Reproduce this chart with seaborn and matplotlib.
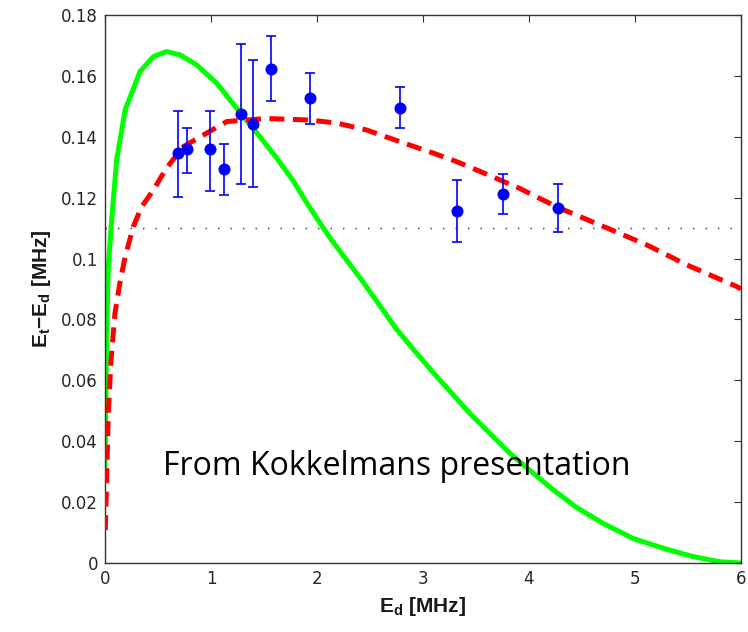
import matplotlib
matplotlib.use("Agg")
import matplotlib.pyplot as plt
import seaborn as sns
import numpy as np
import pandas as pd
from matplotlib.ticker import FuncFormatter

# ---- data ----
green_x = [0, 0.01, 0.016, 0.031, 0.063, 0.11, 0.19, 0.33, 0.456, 0.58, 0.71, 0.865,
           1.054, 1.274, 1.462, 1.62, 1.776, 1.90, 2.05, 2.154, 2.42, 2.594, 2.75, 2.94,
           3.13, 3.286, 3.44, 3.63, 3.82, 4.04, 4.23, 4.45, 4.70, 4.98, 5.27, 5.55, 5.80, 6.0]
green_y = [0.0316, 0.058, 0.0776, 0.097, 0.1127, 0.1324, 0.1488, 0.1614, 0.1663, 0.168, 0.1669, 0.1636,
           0.1576, 0.148, 0.140, 0.133, 0.1255, 0.1185, 0.1105, 0.1053, 0.093, 0.0845, 0.0768, 0.0689,
           0.0612, 0.0552, 0.0492, 0.0426, 0.036, 0.0295, 0.024, 0.0182, 0.013, 0.0081, 0.0048, 0.0021, 0.0004, 0.0]

red_x = [0.003, 0.016, 0.031, 0.057, 0.094, 0.14, 0.19, 0.267, 0.346, 0.456, 0.58, 0.74, 0.93,
         1.148, 1.525, 1.934, 2.186, 2.47, 2.78, 3.10, 3.32, 3.54, 3.915, 4.26, 4.67, 5.11, 5.49, 5.96, 6.0]
red_y = [0.0108, 0.0284, 0.049, 0.0667, 0.082, 0.0919, 0.1006, 0.1105, 0.117, 0.1225, 0.1297, 0.1368, 0.1406,
         0.145, 0.146, 0.1455, 0.1445, 0.1422, 0.1384, 0.1346, 0.1318, 0.1286, 0.123, 0.117, 0.111, 0.1045, 0.0979, 0.0908, 0.0900]

pts_x = [0.686, 0.77, 0.994, 1.12, 1.283, 1.40, 1.563, 1.937, 2.783, 3.324, 3.75, 4.27]
pts_y = [0.1346, 0.1359, 0.1359, 0.1293, 0.1474, 0.1442, 0.1623, 0.1527, 0.1495, 0.1157, 0.1212, 0.1167]
err_lo = [0.1201, 0.1280, 0.1223, 0.1210, 0.1245, 0.1236, 0.1517, 0.1442, 0.1429, 0.1056, 0.1145, 0.1086]
err_hi = [0.1486, 0.1428, 0.1486, 0.1376, 0.1705, 0.1652, 0.1731, 0.1609, 0.1564, 0.1258, 0.1279, 0.1244]

ref_level = 0.11
x_ticks = [0, 1, 2, 3, 4, 5, 6]
y_ticks = [0, 0.02, 0.04, 0.06, 0.08, 0.1, 0.12, 0.14, 0.16, 0.18]
note = "From Kokkelmans presentation"

# ---- style ----
sns.set_theme(style="white")
plt.rcParams["font.family"] = ["DejaVu Sans"]
plt.rcParams["mathtext.fontset"] = "custom"
plt.rcParams["mathtext.rm"] = "Liberation Sans:bold"
plt.rcParams["mathtext.bf"] = "Liberation Sans:bold"
plt.rcParams["mathtext.it"] = "Liberation Sans:bold"

fig = plt.figure(figsize=(7.48, 6.32), dpi=100)
ax = fig.add_axes([105/748, 69/632, 636/748, 548/632])

green = pd.DataFrame({"x": green_x, "y": green_y})
red = pd.DataFrame({"x": red_x, "y": red_y})
pts = pd.DataFrame({"x": pts_x, "y": pts_y, "lo": err_lo, "hi": err_hi})

ax.axhline(ref_level, color="#333333", linewidth=1.0, linestyle=(0, (1, 8)), zorder=1)

sns.lineplot(data=green, x="x", y="y", ax=ax, color="#00ff00", linewidth=3.6,
             sort=False, estimator=None, zorder=2)
sns.lineplot(data=red, x="x", y="y", ax=ax, color="#ff0000", linewidth=3.6,
             sort=False, estimator=None, linestyle=(0, (3.0, 1.7)), zorder=3)

yerr = np.array([pts["y"] - pts["lo"], pts["hi"] - pts["y"]])
ax.errorbar(pts["x"], pts["y"], yerr=yerr, fmt="none", ecolor="#0000ff",
            elinewidth=1.2, capsize=3.5, capthick=1.2, zorder=4)
sns.scatterplot(data=pts, x="x", y="y", ax=ax, color="#0000ff", s=75,
                edgecolor="#0000ff", linewidth=0, zorder=5)

ax.text(0.547, 0.0289, note, fontsize=23, family=["Open Sans", "DejaVu Sans"],
        color="black", va="baseline", ha="left", zorder=6)

ax.set_xlim(0, 6)
ax.set_ylim(0, 0.18)
ax.set_xticks(x_ticks)
ax.set_yticks(y_ticks)
ax.yaxis.set_major_formatter(FuncFormatter(lambda v, p: "%g" % v))
ax.xaxis.set_major_formatter(FuncFormatter(lambda v, p: "%g" % v))
ax.tick_params(direction="in", length=5, width=0.8, colors="#333333",
               labelsize=12, top=True, right=True, labelcolor="#262626", pad=5)

for s in ax.spines.values():
    s.set_color("#333333")
    s.set_linewidth(1.0)
    s.set_visible(True)

ax.set_xlabel(r"$\mathbf{E_d}$ [MHz]", fontsize=15, fontweight="bold",
              family="Liberation Sans", color="#1a1a1a")
ax.set_ylabel(r"$\mathbf{E_t}$$\mathbf{-}$$\mathbf{E_d}$ [MHz]", fontsize=15, fontweight="bold",
              family="Liberation Sans", color="#1a1a1a")
ax.xaxis.set_label_coords(0.5, -0.058)
ax.yaxis.set_label_coords(-0.082, 0.5)

fig.savefig("out.png", dpi=100)
